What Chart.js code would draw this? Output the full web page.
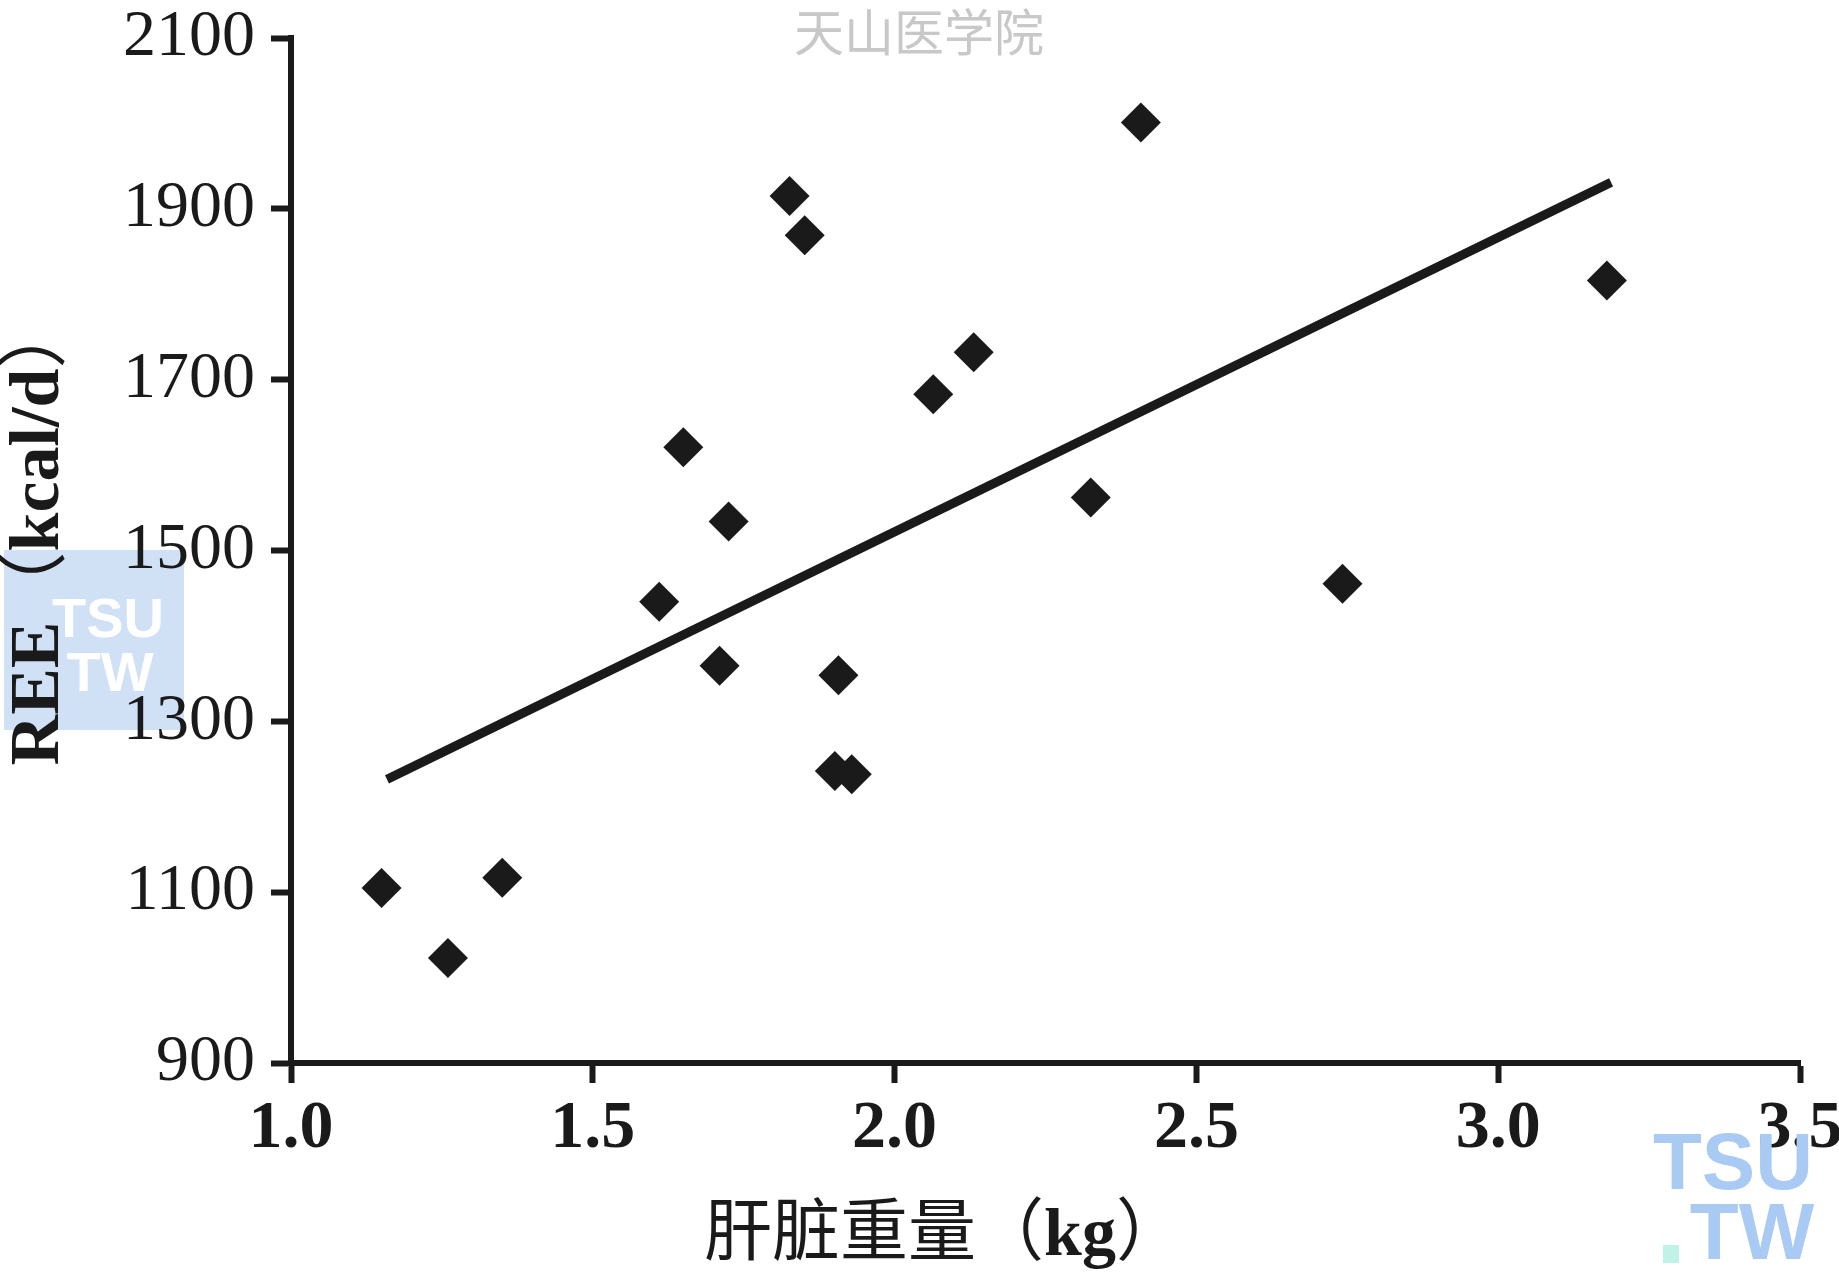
<!DOCTYPE html>
<html>
<head>
<meta charset="utf-8">
<script src="https://cdn.jsdelivr.net/npm/chart.js@4.4.1/dist/chart.umd.min.js"></script>
<style>
  html, body { margin: 0; padding: 0; background: #fff; }
  canvas { display: block; }
</style>
</head>
<body>
<canvas id="chart" width="1839" height="1281"></canvas>
<script>
// liver weight (kg) vs resting energy expenditure (kcal/d)
const liverWeight = [1.15, 1.26, 1.35, 1.61, 1.65, 1.71, 1.725, 1.826, 1.851, 1.907, 1.901, 1.929, 2.064, 2.131, 2.325, 2.408, 2.742, 3.18];
const ree = [1105, 1023, 1117, 1440, 1621, 1365, 1534, 1915, 1869, 1354, 1242, 1238, 1683, 1732, 1562, 2001, 1461, 1816];

// fitted regression line, end points
const fitX = [1.159, 3.187];
const fitY = [1232, 1931];

const xTicks = [1.0, 1.5, 2.0, 2.5, 3.0, 3.5];
const yTicks = [900, 1100, 1300, 1500, 1700, 1900, 2100];

// titles split into [text, bold?] pieces
const xTitle = [['肝脏重量（', false], ['kg', true], ['）', false]];
const yTitle = [['REE', true], ['（', false], ['kcal/d', true], ['）', false]];
const siteMark = '天山医学院';

const ink = '#1a1a1a';
const serif = '"Liberation Serif", "Times New Roman", serif';

function drawPieces(ctx, pieces, size, cx, cy) {
  const fontOf = b => (b ? 'bold ' : '') + size + 'px ' + serif + ', "Noto Sans CJK SC"';
  let total = 0;
  const widths = pieces.map(([t, b]) => {
    ctx.font = fontOf(b);
    const w = ctx.measureText(t).width;
    total += w;
    return w;
  });
  let x = cx - total / 2;
  ctx.textAlign = 'left';
  ctx.textBaseline = 'middle';
  pieces.forEach(([t, b], i) => {
    ctx.font = fontOf(b);
    ctx.fillText(t, x, cy);
    x += widths[i];
  });
}

const textPlugin = {
  id: 'textPlugin',
  beforeDraw(chart) {
    const ctx = chart.ctx;
    ctx.save();
    ctx.fillStyle = '#fff';
    ctx.fillRect(0, 0, chart.width, chart.height);
    // blue stamp on the left
    ctx.fillStyle = '#d0e1f6';
    ctx.fillRect(4, 550, 180, 180);
    ctx.fillStyle = '#fff';
    ctx.font = 'bold 56px "Liberation Sans", sans-serif';
    ctx.textAlign = 'center';
    ctx.textBaseline = 'middle';
    ctx.fillText('TSU', 108, 622);
    ctx.fillText('TW', 110, 676);
    ctx.restore();
  },
  afterDraw(chart) {
    const ctx = chart.ctx;
    ctx.save();
    ctx.textAlign = 'center';
    ctx.textBaseline = 'middle';
    ctx.fillStyle = '#c8c8c8';
    ctx.font = '50px "Noto Sans CJK SC", sans-serif';
    ctx.fillText(siteMark, 919, 32);

    ctx.fillStyle = ink;
    drawPieces(ctx, xTitle, 68, 944, 1237);

    ctx.translate(40, 532);
    ctx.rotate(-Math.PI / 2);
    drawPieces(ctx, yTitle, 70, 0, 0);
    ctx.restore();

    // bottom-right logo
    ctx.save();
    ctx.textAlign = 'center';
    ctx.textBaseline = 'middle';
    ctx.font = 'bold 80px "Liberation Sans", sans-serif';
    ctx.fillStyle = '#a9cbf3';
    ctx.fillText('TSU', 1733, 1167);
    ctx.fillText('TW', 1752, 1237);
    ctx.fillStyle = '#bff3e8';
    ctx.fillRect(1663, 1245, 16, 18);
    ctx.restore();
  }
};

new Chart(document.getElementById('chart'), {
  type: 'scatter',
  data: {
    datasets: [
      {
        label: 'REE',
        data: liverWeight.map((x, i) => ({ x: x, y: ree[i] })),
        pointStyle: 'rectRot',
        pointRadius: 20,
        pointBackgroundColor: ink,
        pointBorderColor: ink,
        pointBorderWidth: 0
      },
      {
        label: 'fit',
        data: fitX.map((x, i) => ({ x: x, y: fitY[i] })),
        showLine: true,
        pointRadius: 0,
        borderColor: ink,
        borderWidth: 9
      }
    ]
  },
  options: {
    responsive: false,
    animation: false,
    events: [],
    layout: { padding: 0 },
    plugins: {
      legend: { display: false },
      tooltip: { enabled: false }
    },
    scales: {
      x: {
        type: 'linear',
        min: 1,
        max: 3.5,
        afterBuildTicks: s => { s.ticks = xTicks.map(v => ({ value: v })); },
        afterFit: s => { s.height = 218; s.paddingLeft = 0; s.paddingRight = 39; },
        border: { display: true, color: ink, width: 6 },
        grid: { display: true, drawOnChartArea: false, drawTicks: true, tickLength: 20, tickWidth: 6, tickColor: ink },
        ticks: {
          color: ink,
          padding: 6,
          font: { family: serif, size: 68, weight: 'bold' },
          callback: v => v.toFixed(1)
        }
      },
      y: {
        type: 'linear',
        min: 900,
        max: 2100,
        afterBuildTicks: s => { s.ticks = yTicks.map(v => ({ value: v })); },
        afterFit: s => { s.width = 291; s.paddingTop = 38; s.paddingBottom = 0; },
        border: { display: true, color: ink, width: 6 },
        grid: { display: true, drawOnChartArea: false, drawTicks: true, tickLength: 20, tickWidth: 6, tickColor: ink },
        ticks: {
          color: ink,
          padding: 16,
          font: { family: serif, size: 66 },
          callback: v => String(v)
        }
      }
    }
  },
  plugins: [textPlugin]
});
</script>
</body>
</html>
